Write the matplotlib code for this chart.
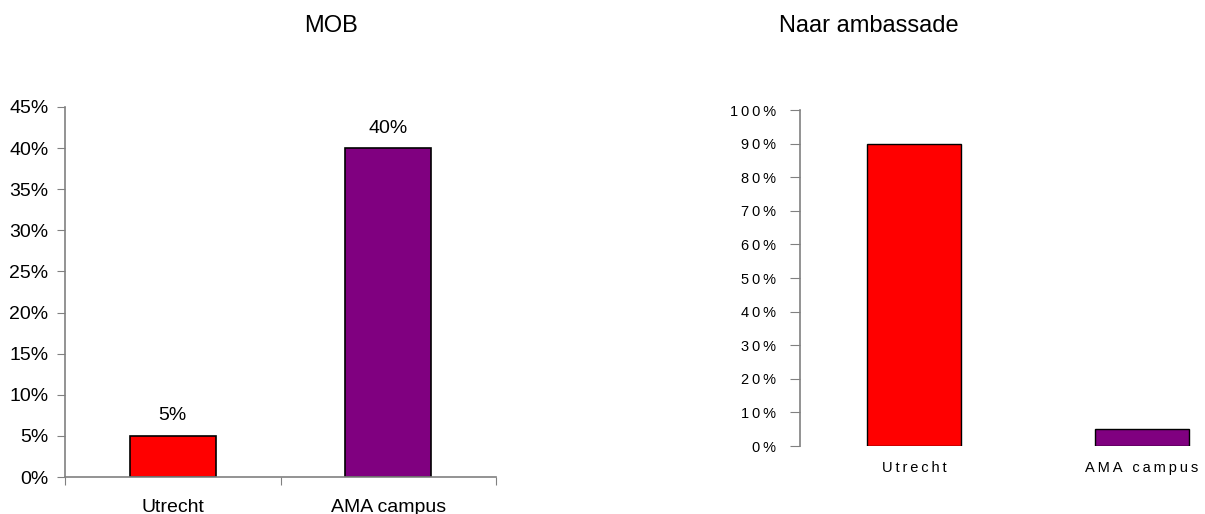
import matplotlib
matplotlib.use("Agg")
import matplotlib.pyplot as plt

plt.rcParams["font.family"] = ["Liberation Sans", "DejaVu Sans"]

categories = ["Utrecht", "AMA campus"]
mob_values = [5, 40]
ambassade_values = [90, 5]
bar_colors = ["#ff0000", "#800080"]

mob_ticks = list(range(0, 50, 5))
amb_ticks = list(range(0, 110, 10))

GRAY = "#808080"


def spaced(s):
    # imitate the wide letter tracking of the right-hand chart
    return "\u2009".join(s)


fig = plt.figure(figsize=(12.05, 5.14), dpi=100)

# left: MOB
ax1 = fig.add_axes([65 / 1205, 37 / 514, 431 / 1205, 370 / 514])
xs = [0.5, 1.5]
bars = ax1.bar(xs, mob_values, width=0.4, color=bar_colors, edgecolor="black", linewidth=1.2)
for b, v in zip(bars, mob_values):
    ax1.text(b.get_x() + b.get_width() / 2, v + 1.4, f"{v}%", ha="center", va="bottom", fontsize=14)
ax1.set_xlim(0, 2)
ax1.set_ylim(0, 45)
ax1.set_yticks(mob_ticks)
ax1.set_yticklabels([f"{t}%" for t in mob_ticks], fontsize=14)
ax1.set_xticks([0, 1, 2])
ax1.set_xticklabels([])
ax1.set_xticks(xs, minor=True)
ax1.set_xticklabels(categories, minor=True, fontsize=14)
ax1.tick_params(axis="x", which="minor", length=0, pad=16)
ax1.tick_params(axis="x", which="major", length=6, color=GRAY, direction="out")
ax1.tick_params(axis="y", length=6, color=GRAY, direction="out", pad=6)
for s in ("top", "right"):
    ax1.spines[s].set_visible(False)
for s in ("left", "bottom"):
    ax1.spines[s].set_color(GRAY)
    ax1.spines[s].set_linewidth(1.2)
fig.text(331 / 1205, 1 - 26 / 514, "MOB", ha="center", va="center", fontsize=17)

# right: Naar ambassade
ax2 = fig.add_axes([800 / 1205, 68 / 514, 456 / 1205, 336 / 514])
ax2.bar(xs, ambassade_values, width=0.41, color=bar_colors, edgecolor="black", linewidth=1.0)
ax2.set_xlim(0, 2)
ax2.set_ylim(0, 100)
ax2.set_yticks(amb_ticks)
ax2.set_yticklabels([spaced(f"{t}%") for t in amb_ticks], fontsize=10.5)
ax2.set_xticks(xs)
ax2.set_xticklabels([spaced(c) for c in categories], fontsize=10.5)
ax2.tick_params(axis="x", length=0, pad=11)
ax2.tick_params(axis="y", length=7, color=GRAY, direction="out", pad=10)
for s in ("top", "right", "bottom"):
    ax2.spines[s].set_visible(False)
ax2.spines["left"].set_color(GRAY)
ax2.spines["left"].set_linewidth(1.2)
fig.text(869 / 1205, 1 - 26 / 514, "Naar ambassade", ha="center", va="center", fontsize=17)

fig.savefig("out.png", dpi=100)
